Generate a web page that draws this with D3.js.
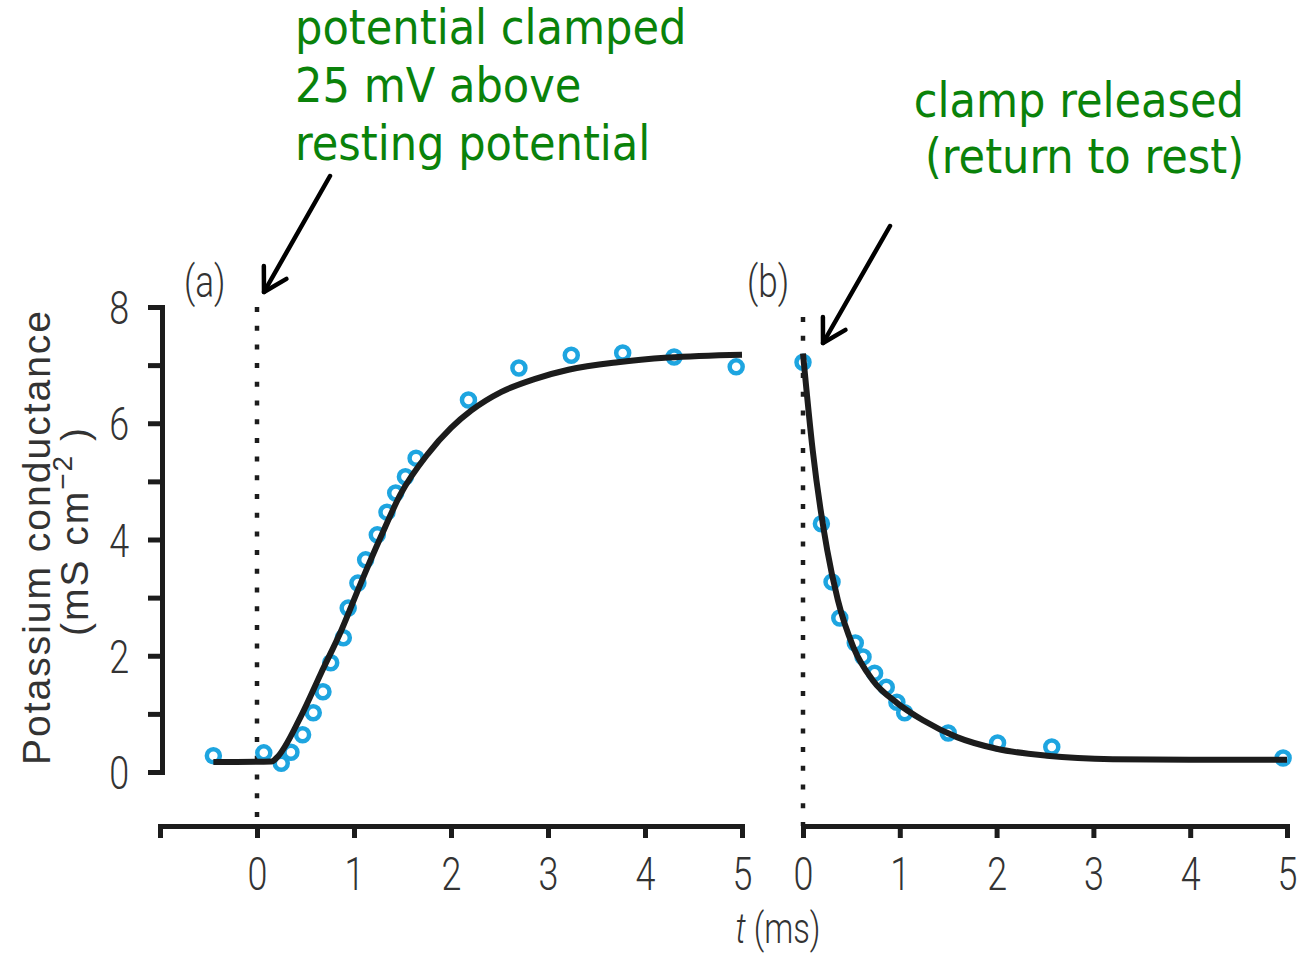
<!DOCTYPE html>
<html>
<head>
<meta charset="utf-8">
<script src="https://cdn.jsdelivr.net/npm/d3@7"></script>
<style>
  html, body { margin: 0; padding: 0; background: #fff; }
  svg { display: block; }
</style>
</head>
<body>
<script>
// Potassium conductance during a voltage clamp (a) and after its release (b)

// (a) clamp applied at t = 0
const clampT = [-0.45, 0.07, 0.25, 0.35, 0.47, 0.58, 0.68, 0.76, 0.89, 0.94, 1.04, 1.12, 1.24, 1.34, 1.43, 1.53, 1.64, 2.18, 2.70, 3.24, 3.77, 4.30, 4.94];
const clampG = [0.28, 0.33, 0.15, 0.34, 0.64, 1.02, 1.38, 1.88, 2.31, 2.82, 3.25, 3.65, 4.08, 4.47, 4.80, 5.08, 5.40, 6.40, 6.95, 7.17, 7.21, 7.14, 6.97];
const clampFitT = [-0.45, 0.15, 0.20, 0.45, 0.66, 0.87, 1.07, 1.28, 1.48, 1.76, 2.00, 2.21, 2.52, 2.86, 3.21, 3.72, 4.24, 5.00];
const clampFitG = [0.17, 0.18, 0.24, 0.95, 1.70, 2.44, 3.25, 4.06, 4.78, 5.47, 5.92, 6.22, 6.54, 6.76, 6.92, 7.05, 7.13, 7.18];

// (b) clamp released at t = 0
const releaseT = [0.00, 0.19, 0.30, 0.38, 0.54, 0.62, 0.74, 0.86, 0.97, 1.05, 1.50, 2.01, 2.57, 4.96];
const releaseG = [7.05, 4.27, 3.27, 2.65, 2.22, 1.98, 1.70, 1.46, 1.20, 1.02, 0.67, 0.50, 0.43, 0.24];
const releaseFitT = [0.00, 0.10, 0.25, 0.36, 0.52, 0.72, 0.97, 1.24, 1.59, 2.00, 2.52, 3.20, 4.00, 5.00];
const releaseFitG = [7.20, 5.54, 3.82, 2.96, 2.15, 1.58, 1.19, 0.89, 0.60, 0.40, 0.28, 0.22, 0.21, 0.21];

const yTicks = [0, 1, 2, 3, 4, 5, 6, 7, 8];
const yTickLabels = ["0", "", "2", "", "4", "", "6", "", "8"];
const xTicksA = [-1, 0, 1, 2, 3, 4, 5];
const xTicksB = [0, 1, 2, 3, 4, 5];

const W = 1311, H = 955;
const INK = "#1c1c1c";
const LABEL = "#333";
const BLUE = "#1ea5e0";
const GREEN = "#0a820a";
const LIGHT = "Roboto, 'Liberation Sans', sans-serif";
const SQUEEZE = 0.78; // horizontal squeeze giving the narrow figure lettering

const svg = d3.select("body").append("svg").attr("width", W).attr("height", H);

const y = d3.scaleLinear().domain([0, 8]).range([772, 307]);
const xA = d3.scaleLinear().domain([-1, 5]).range([160, 742]);
const xB = d3.scaleLinear().domain([0, 5]).range([803, 1287]);
const axisY = 826;

function styleAxis(g) {
  g.select(".domain").attr("stroke", INK).attr("stroke-width", 5).attr("stroke-linecap", "square");
  g.selectAll(".tick line").attr("stroke", INK).attr("stroke-width", 5);
  g.selectAll(".tick text")
    .attr("fill", LABEL)
    .attr("transform", `scale(${SQUEEZE},1)`)
    .style("font-family", LIGHT)
    .style("font-weight", 300)
    .style("font-size", "46px");
}

// y axis
svg.append("g")
  .attr("transform", "translate(162,0)")
  .call(d3.axisLeft(y).tickValues(yTicks).tickSize(14).tickSizeOuter(0).tickPadding(28)
    .tickFormat((d, i) => yTickLabels[i]))
  .call(styleAxis)
  .call(g => g.selectAll(".tick text").attr("dy", "0.36em"));

// x axes
svg.append("g")
  .attr("transform", `translate(0,${axisY})`)
  .call(d3.axisBottom(xA).tickValues(xTicksA).tickSize(12).tickSizeOuter(0).tickPadding(19)
    .tickFormat(d => d < 0 ? "" : d3.format("d")(d)))
  .call(styleAxis);

svg.append("g")
  .attr("transform", `translate(0,${axisY})`)
  .call(d3.axisBottom(xB).tickValues(xTicksB).tickSize(12).tickSizeOuter(0).tickPadding(19)
    .tickFormat(d3.format("d")))
  .call(styleAxis);

// dotted markers at the moment of clamping / release
svg.append("line")
  .attr("x1", xA(0)).attr("x2", xA(0))
  .attr("y1", y(8)).attr("y2", axisY)
  .attr("stroke", INK).attr("stroke-width", 4.5).attr("stroke-dasharray", "5,13.7");
svg.append("line")
  .attr("x1", xB(0)).attr("x2", xB(0))
  .attr("y1", y(8) + 10).attr("y2", axisY)
  .attr("stroke", INK).attr("stroke-width", 4.5).attr("stroke-dasharray", "5,13.7");

// measured points
function drawPoints(ts, gs, x) {
  svg.append("g").selectAll("circle")
    .data(ts.map((t, i) => [t, gs[i]]))
    .join("circle")
    .attr("cx", d => x(d[0]))
    .attr("cy", d => y(d[1]))
    .attr("r", 6.5)
    .attr("fill", "none")
    .attr("stroke", BLUE)
    .attr("stroke-width", 4.5);
}
drawPoints(clampT, clampG, xA);
drawPoints(releaseT, releaseG, xB);

// fitted curves
function drawFit(ts, gs, x) {
  const line = d3.line().x(d => x(d[0])).y(d => y(d[1])).curve(d3.curveMonotoneX);
  svg.append("path")
    .datum(ts.map((t, i) => [t, gs[i]]))
    .attr("d", line)
    .attr("fill", "none")
    .attr("stroke", INK)
    .attr("stroke-width", 6)
    .attr("stroke-linejoin", "round");
}
drawFit(clampFitT, clampFitG, xA);
drawFit(releaseFitT, releaseFitG, xB);

// narrow lettering placed at (x, y)
function narrowText(x, yPos, size, anchor) {
  return svg.append("text")
    .attr("transform", `translate(${x},${yPos}) scale(${SQUEEZE},1)`)
    .attr("text-anchor", anchor || "start")
    .style("font-family", LIGHT).style("font-weight", 300)
    .style("font-size", size + "px").attr("fill", LABEL);
}

// panel letters
narrowText(184, 297, 45).text("(a)");
narrowText(747, 297, 45).text("(b)");

// x axis title
const xt = narrowText(778, 943, 42, "middle");
xt.append("tspan").style("font-style", "italic").text("t");
xt.append("tspan").text(" (ms)");

// y axis title
const yt = svg.append("g").attr("transform", "translate(50,537) rotate(-90)")
  .style("font-family", "'Liberation Sans', Arial, sans-serif").style("font-size", "39px")
  .style("letter-spacing", "2px").attr("fill", LABEL);
yt.append("text").attr("text-anchor", "middle").text("Potassium conductance");
const yt2 = yt.append("text").attr("text-anchor", "middle").attr("x", 6).attr("y", 38);
yt2.append("tspan").text("(mS cm");
yt2.append("tspan").attr("dy", -16).style("font-size", "28px").text("\u22122");
yt2.append("tspan").attr("dy", 16).text(" )");

// annotations
const ann = svg.append("g")
  .style("font-family", "'DejaVu Sans Condensed', 'DejaVu Sans', sans-serif")
  .style("font-stretch", "condensed")
  .style("font-size", "48px")
  .attr("fill", GREEN);
ann.append("text").attr("x", 295).attr("y", 44).text("potential clamped");
ann.append("text").attr("x", 295).attr("y", 102).text("25 mV above");
ann.append("text").attr("x", 295).attr("y", 160).text("resting potential");
ann.append("text").attr("x", 1244).attr("y", 117).attr("text-anchor", "end").text("clamp released");
ann.append("text").attr("x", 1244).attr("y", 173).attr("text-anchor", "end").text("(return to rest)");

// arrows pointing at the clamp / release moments
function arrow(tail, tip) {
  const ang = Math.atan2(tail[1] - tip[1], tail[0] - tip[0]);
  const len = 26, spread = Math.PI / 6;
  const a1 = [tip[0] + len * Math.cos(ang - spread), tip[1] + len * Math.sin(ang - spread)];
  const a2 = [tip[0] + len * Math.cos(ang + spread), tip[1] + len * Math.sin(ang + spread)];
  const g = svg.append("g").attr("stroke", "#000").attr("stroke-width", 4.5)
    .attr("fill", "none").attr("stroke-linecap", "round").attr("stroke-linejoin", "round");
  g.append("line").attr("x1", tail[0]).attr("y1", tail[1]).attr("x2", tip[0]).attr("y2", tip[1]);
  g.append("path").attr("d", `M${a1[0]},${a1[1]}L${tip[0]},${tip[1]}L${a2[0]},${a2[1]}`);
}
arrow([330, 176], [xA(0) + 7, y(8) - 15]);
arrow([890, 226], [xB(0) + 20, y(8) + 36]);
</script>
</body>
</html>
